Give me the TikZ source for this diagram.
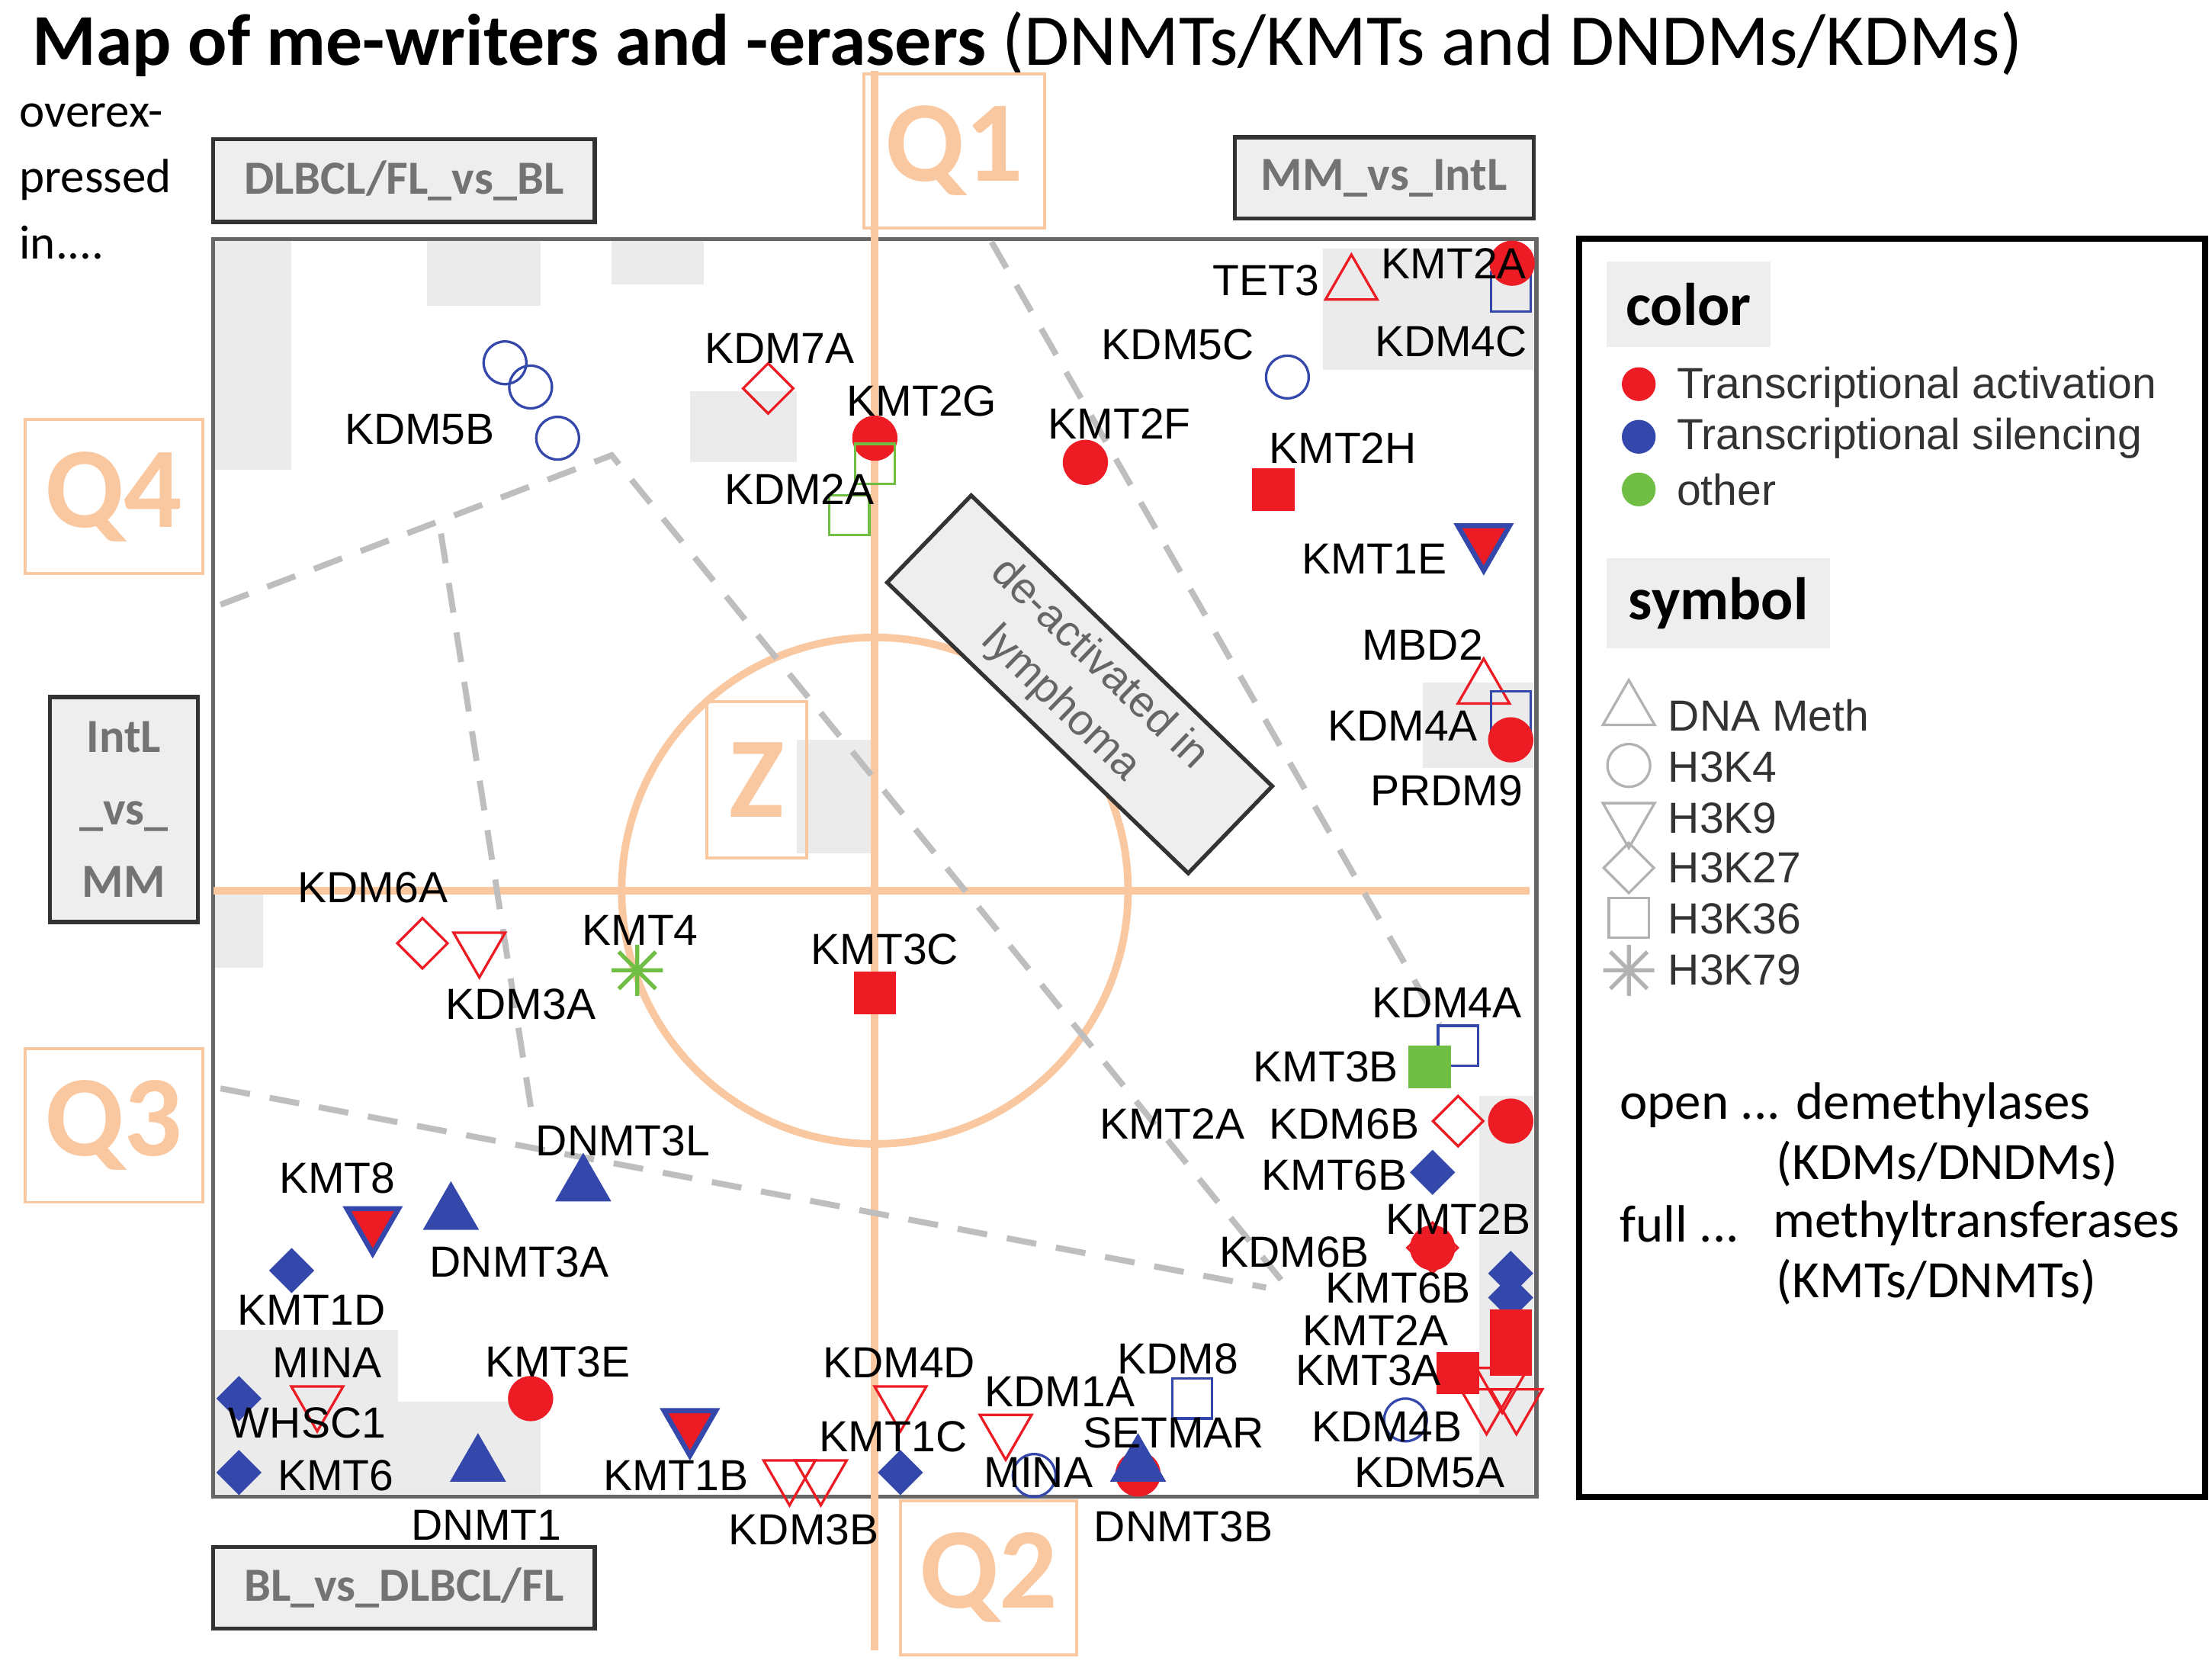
\documentclass[tikz,border=0pt]{standalone}
\usepackage{fontspec}
\setmainfont{Liberation Sans}
\newfontfamily\titlefont{Carlito}
\usetikzlibrary{shapes.geometric}
\definecolor{actred}{RGB}{237,28,36}
\definecolor{silblue}{RGB}{52,72,172}
\definecolor{othgreen}{RGB}{112,190,68}
\definecolor{qorange}{RGB}{250,200,160}
\definecolor{boxgray}{RGB}{238,238,238}
\definecolor{dashgray}{RGB}{190,190,190}
\tikzset{
  mk/.style={inner sep=0pt,line width=0.5pt},
  dnam/.style={mk,regular polygon,regular polygon sides=3,minimum size=0.42cm},
  hk9/.style={mk,regular polygon,regular polygon sides=3,shape border rotate=180,minimum size=0.42cm},
  hk4/.style={mk,circle,minimum size=0.3cm},
  hk27/.style={mk,diamond,minimum size=0.36cm},
  hk36/.style={mk,rectangle,minimum size=0.28cm},
  opn/.style={draw=#1,fill=none},
  ful/.style={draw=#1,fill=#1},
  lbl/.style={font=\fontsize{8.7}{10}\selectfont,inner sep=0pt},
  qbox/.style={draw=qorange,line width=0.6pt,text=qorange,font=\titlefont\fontsize{23}{24}\selectfont\bfseries,inner sep=0pt},
  grbox/.style={draw=black!80,fill=boxgray,line width=0.8pt,text=black!55,font=\titlefont\fontsize{9.5}{12}\selectfont\bfseries,inner sep=0pt},
  zone/.style={dashgray,dashed,line width=1.2pt,dash pattern=on 6pt off 4pt}
}
\begin{document}
\begin{tikzpicture}[x=0.01cm,y=-0.01cm]
\useasboundingbox (0,0) rectangle (1555,1167);

% title
\node[anchor=base west,inner sep=0pt,font=\titlefont\fontsize{14.6}{16}\selectfont] (title) at (22,46)
  {\textbf{Map of me-writers and -erasers} (DNMTs/KMTs and DNDMs/KDMs)};
\node[anchor=north west,align=left,inner sep=0pt,font=\titlefont\fontsize{9.6}{13.2}\selectfont] (over) at (13,72) {overex-\\pressed\\in....};

% faint background cells
\begin{scope}[fill=black!8]
  \fill (150,168) rectangle (205,330);
  \fill (300,168) rectangle (380,215);
  \fill (430,168) rectangle (495,200);
  \fill (485,275) rectangle (560,325);
  \fill (560,520) rectangle (612,600);
  \fill (150,628) rectangle (185,680);
  \fill (930,175) rectangle (1078,260);
  \fill (1000,480) rectangle (1078,540);
  \fill (1040,770) rectangle (1078,1050);
  \fill (150,935) rectangle (280,1050);
  \fill (280,985) rectangle (380,1050);
\end{scope}

% plot frame and axes
\draw[black!60,line width=0.8pt] (150,168) rectangle (1080,1052);
\draw[qorange,line width=1.5pt] (615,50) -- (615,1160);
\draw[qorange,line width=1.5pt] (150,626) -- (1075,626);
\draw[qorange,line width=1.5pt] (615,626) circle (178);

% zones
\draw[zone] (155,425) -- (430,320) -- (905,905);
\draw[zone] (697,170) -- (1012,720);
\draw[zone] (310,375) -- (375,790);
\draw[zone] (155,765) -- (890,905);

% quadrant labels
\node[qbox,minimum width=1.27cm,minimum height=1.08cm] (q1) at (671,106) {Q1};
\node[qbox,minimum width=1.24cm,minimum height=1.08cm] (q2) at (695,1109) {Q2};
\node[qbox,minimum width=1.25cm,minimum height=1.08cm] (q3) at (80,791) {Q3};
\node[qbox,minimum width=1.25cm,minimum height=1.08cm] (q4) at (80,349) {Q4};
\node[qbox,minimum width=0.7cm,minimum height=1.1cm] (z) at (532,548) {Z};

% comparison boxes
\node[grbox,minimum width=2.68cm,minimum height=0.58cm] (dlbcl) at (284,127) {DLBCL/FL\_vs\_BL};
\node[grbox,minimum width=2.1cm,minimum height=0.57cm] (mmint) at (973,125) {MM\_vs\_IntL};
\node[grbox,minimum width=1.04cm,minimum height=1.58cm,align=center,font=\titlefont\fontsize{9.5}{14.5}\selectfont\bfseries] (intmm) at (87,569) {IntL\\\_vs\_\\MM};
\node[grbox,minimum width=2.68cm,minimum height=0.57cm] (bldl) at (284,1116) {BL\_vs\_DLBCL/FL};
\node[grbox,rotate=-44,minimum width=2.94cm,minimum height=0.85cm,align=center,font=\fontsize{8.7}{11}\selectfont,text=black!60] (deact) at (759,481) {de-activated in\\lymphoma};

% Q1 markers
\node[dnam,opn=actred] (tet3) at (950,200) {};
\node[hk36,opn=silblue] (kdm4c) at (1062,205) {};
\node[hk4,ful=actred] (kmt2a) at (1063,185) {};
\node[hk4,opn=silblue] (kdm5c) at (905,265) {};
\node[hk4,ful=actred] (kmt2f) at (763,325) {};
\node[hk36,ful=actred] (kmt2h) at (895,344) {};
\node[hk9,fill=actred,draw=silblue,line width=1pt] (kmt1e) at (1043,380) {};
\node[dnam,opn=actred] (mbd2) at (1043,484) {};
\node[hk36,opn=silblue] (kdm4a) at (1062,500) {};
\node[hk4,ful=actred] (prdm9) at (1062,520) {};
\node[lbl] at (890,197) {TET3};
\node[lbl] at (1022,185) {KMT2A};
\node[lbl] at (1020,240) {KDM4C};
\node[lbl] at (828,242) {KDM5C};
\node[lbl] at (787,298) {KMT2F};
\node[lbl] at (944,315) {KMT2H};
\node[lbl] at (966,393) {KMT1E};
\node[lbl] at (1000,453) {MBD2};
\node[lbl] at (986,510) {KDM4A};
\node[lbl] at (1017,556) {PRDM9};

% Q4 markers
\node[hk4,opn=silblue] (kdm5ba) at (355,255) {};
\node[hk4,opn=silblue] (kdm5bb) at (373,272) {};
\node[hk4,opn=silblue] (kdm5bc) at (392,308) {};
\node[hk27,opn=actred] (kdm7a) at (540,273) {};
\node[hk4,ful=actred] (kmt2g) at (615,308) {};
\node[hk36,opn=othgreen] (kdm2aa) at (615,326) {};
\node[hk36,opn=othgreen] (kdm2ab) at (597,362) {};
\node[hk27,opn=actred] (kdm6a) at (297,663) {};
\node[hk9,opn=actred] (kdm3a) at (337,666) {};
\node[lbl] at (295,302) {KDM5B};
\node[lbl] at (548,245) {KDM7A};
\node[lbl] at (648,282) {KMT2G};
\node[lbl] at (562,344) {KDM2A};
\node[lbl] at (262,624) {KDM6A};
\node[lbl] at (366,706) {KDM3A};

% centre
\draw[othgreen,line width=0.8pt] (448,664) -- (448,700) (430,682) -- (466,682) (435,669) -- (461,695) (435,695) -- (461,669);
\coordinate (kmt4) at (448,682);
\node[hk36,ful=actred] (kmt3c) at (615,698) {};
\node[lbl] at (450,654) {KMT4};
\node[lbl] at (622,667) {KMT3C};

% Q2 markers
\node[hk36,opn=silblue] (kdm4al) at (1025,735) {};
\node[hk36,ful=othgreen] (kmt3b) at (1005,750) {};
\node[hk27,opn=actred] (kdm6b) at (1025,788) {};
\node[hk4,ful=actred] (kmt2al) at (1062,788) {};
\node[hk27,ful=silblue,minimum size=0.3cm] (kmt6b) at (1007,824) {};
\node[hk27,opn=actred] (kdm6bl) at (1007,877) {};
\node[hk4,ful=actred] (kmt2b) at (1007,877) {};
\node[hk27,ful=silblue,minimum size=0.3cm] (kmt6ba) at (1062,895) {};
\node[hk27,ful=silblue,minimum size=0.3cm] (kmt6bb) at (1062,912) {};
\node[hk36,ful=actred] (kmt2aa) at (1062,935) {};
\node[hk36,ful=actred] (kmt2ab) at (1062,952) {};
\node[hk36,ful=actred] (kmt3a) at (1025,965) {};
\node[hk9,opn=actred] (kdm5aa) at (1045,987) {};
\node[hk9,opn=actred] (kdm5ab) at (1066,987) {};
\node[hk9,opn=actred] (kdm5ac) at (1056,972) {};
\node[hk4,opn=silblue] (kdm4b) at (988,998) {};
\node[hk36,opn=silblue] (kdm8) at (838,983) {};
\node[hk9,opn=actred] (kdm1a) at (707,1005) {};
\node[hk9,opn=actred] (kdm4d) at (633,985) {};
\node[hk27,ful=silblue,minimum size=0.3cm] (kmt1c) at (633,1035) {};
\node[hk4,opn=silblue] (mina) at (727,1037) {};
\node[hk4,ful=actred] (setmar) at (800,1036) {};
\node[dnam,ful=silblue] (dnmt3b) at (800,1030) {};
\node[lbl] at (1017,705) {KDM4A};
\node[lbl] at (932,750) {KMT3B};
\node[lbl] at (824,790) {KMT2A};
\node[lbl] at (945,790) {KDM6B};
\node[lbl] at (938,826) {KMT6B};
\node[lbl] at (1025,857) {KMT2B};
\node[lbl] at (910,880) {KDM6B};
\node[lbl] at (983,905) {KMT6B};
\node[lbl] at (967,935) {KMT2A};
\node[lbl] at (962,963) {KMT3A};
\node[lbl] at (975,1003) {KDM4B};
\node[lbl] at (1005,1035) {KDM5A};
\node[lbl] at (828,955) {KDM8};
\node[lbl] at (745,978) {KDM1A};
\node[lbl] at (632,958) {KDM4D};
\node[lbl] at (628,1010) {KMT1C};
\node[lbl] at (825,1007) {SETMAR};
\node[lbl] at (730,1035) {MINA};
\node[lbl] at (832,1073) {DNMT3B};

% Q3 markers
\node[hk9,opn=actred] (kdm3ba) at (555,1037) {};
\node[hk9,opn=actred] (kdm3bb) at (577,1037) {};
\node[hk9,fill=actred,draw=silblue,line width=1pt] (kmt1b) at (485,1002) {};
\node[dnam,ful=silblue] (dnmt1) at (336,1030) {};
\node[hk4,ful=actred] (kmt3e) at (373,983) {};
\node[hk9,opn=actred] (minal) at (223,985) {};
\node[hk27,ful=silblue,minimum size=0.3cm] (whsc1) at (168,983) {};
\node[hk27,ful=silblue,minimum size=0.3cm] (kmt6) at (168,1035) {};
\node[hk27,ful=silblue,minimum size=0.3cm] (kmt1d) at (205,893) {};
\node[hk9,fill=actred,draw=silblue,line width=1pt] (kmt8) at (262,860) {};
\node[dnam,ful=silblue] (dnmt3a) at (317,853) {};
\node[dnam,ful=silblue] (dnmt3l) at (410,833) {};
\node[lbl] at (565,1075) {KDM3B};
\node[lbl] at (475,1037) {KMT1B};
\node[lbl] at (342,1072) {DNMT1};
\node[lbl] at (392,957) {KMT3E};
\node[lbl] at (230,958) {MINA};
\node[lbl] at (216,1000) {WHSC1};
\node[lbl] at (236,1037) {KMT6};
\node[lbl] at (219,921) {KMT1D};
\node[lbl] at (237,828) {KMT8};
\node[lbl] at (365,887) {DNMT3A};
\node[lbl] at (438,802) {DNMT3L};

% legend
\draw[black,line width=1.2pt] (1110,168) rectangle (1550,1052);
\node[fill=boxgray,minimum width=1.15cm,minimum height=0.6cm,font=\titlefont\fontsize{12}{14}\selectfont\bfseries] (lcolor) at (1187,214) {color};
\node[fill=boxgray,minimum width=1.57cm,minimum height=0.63cm,font=\titlefont\fontsize{12}{14}\selectfont\bfseries] (lsym) at (1208,424) {symbol};
\node[hk4,ful=actred,minimum size=0.22cm] (lred) at (1152,270) {};
\node[hk4,ful=silblue,minimum size=0.22cm] (lblue) at (1152,307) {};
\node[hk4,ful=othgreen,minimum size=0.22cm] (lgreen) at (1152,344) {};
\node[lbl,anchor=west,text=black!80] at (1178,272) {Transcriptional activation};
\node[lbl,anchor=west,text=black!80] at (1178,308) {Transcriptional silencing};
\node[lbl,anchor=west,text=black!80] at (1178,344) {other};
\node[dnam,opn=black!30] (ldna) at (1145,499) {};
\node[hk4,opn=black!30] (lk4) at (1145,538) {};
\node[hk9,opn=black!30] (lk9) at (1145,575) {};
\node[hk27,opn=black!30] (lk27) at (1145,610) {};
\node[hk36,opn=black!30] (lk36) at (1145,645) {};
\draw[black!30,line width=0.8pt] (1145,664) -- (1145,700) (1127,682) -- (1163,682) (1132,669) -- (1158,695) (1132,695) -- (1158,669);
\node[lbl,anchor=west,text=black!80] at (1172,503) {DNA Meth};
\node[lbl,anchor=west,text=black!80] at (1172,539) {H3K4};
\node[lbl,anchor=west,text=black!80] at (1172,575) {H3K9};
\node[lbl,anchor=west,text=black!80] at (1172,610) {H3K27};
\node[lbl,anchor=west,text=black!80] at (1172,646) {H3K36};
\node[lbl,anchor=west,text=black!80] at (1172,682) {H3K79};
\begin{scope}[every node/.style={anchor=west,inner sep=0pt,font=\titlefont\fontsize{10.5}{12}\selectfont}]
  \node at (1138,777) {open ... demethylases};
  \node at (1248,818) {(KDMs/DNDMs)};
  \node at (1138,860) {full ...};
  \node at (1246,860) {methyltransferases};
  \node at (1248,901) {(KMTs/DNMTs)};
\end{scope}
\end{tikzpicture}
\end{document}
